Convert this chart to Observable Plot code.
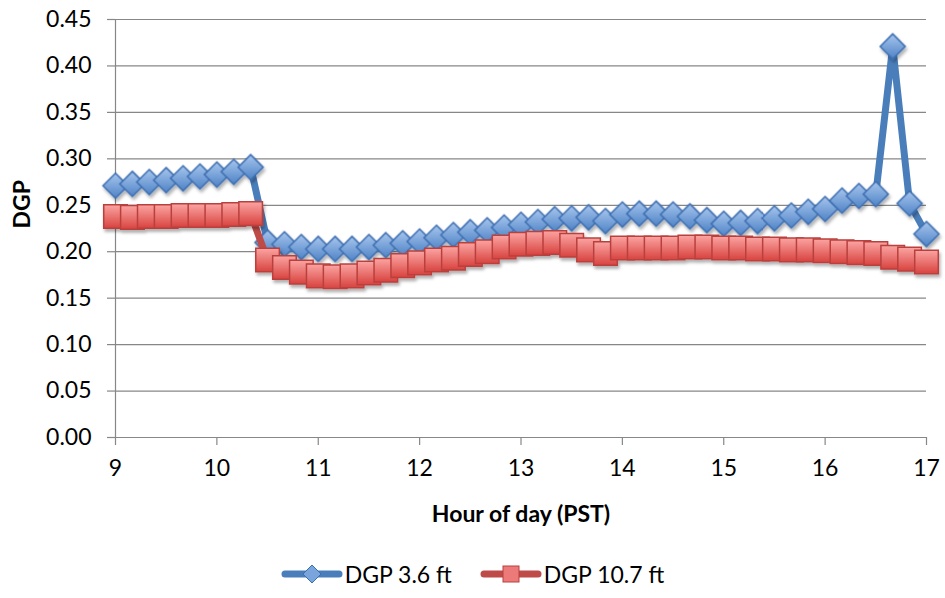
<!DOCTYPE html>
<html>
<head>
<meta charset="utf-8">
<script src="https://cdn.jsdelivr.net/npm/d3@7"></script>
<script src="https://cdn.jsdelivr.net/npm/@observablehq/plot@0.6"></script>
<style>
  body { margin: 0; background: #fff; font-family: Lato, "Liberation Sans", sans-serif; }
  #chart { width: 945px; }
  #legend { display: flex; justify-content: center; align-items: center; height: 48px; padding-top: 0; font-size: 23px; color: #000; }
  .item { display: flex; align-items: center; margin: 0 14px; }
  .item svg { margin-right: 2px; }
</style>
</head>
<body>
<div id="chart"></div>
<div id="legend"></div>
<script>
const hours = [9, 9.1667, 9.3333, 9.5, 9.6667, 9.8333, 10, 10.1667, 10.3333, 10.5, 10.6667, 10.8333,
  11, 11.1667, 11.3333, 11.5, 11.6667, 11.8333, 12, 12.1667, 12.3333, 12.5, 12.6667, 12.8333,
  13, 13.1667, 13.3333, 13.5, 13.6667, 13.8333, 14, 14.1667, 14.3333, 14.5, 14.6667, 14.8333,
  15, 15.1667, 15.3333, 15.5, 15.6667, 15.8333, 16, 16.1667, 16.3333, 16.5, 16.6667, 16.8333, 17];

const dgp36 = [0.271, 0.273, 0.275, 0.277, 0.279, 0.281, 0.283, 0.286, 0.291, 0.210, 0.208, 0.205,
  0.203, 0.203, 0.203, 0.205, 0.207, 0.209, 0.211, 0.215, 0.218, 0.221, 0.223, 0.226,
  0.229, 0.232, 0.235, 0.236, 0.237, 0.233, 0.240, 0.241, 0.241, 0.240, 0.238, 0.234,
  0.230, 0.231, 0.233, 0.236, 0.239, 0.243, 0.246, 0.255, 0.260, 0.262, 0.421, 0.252, 0.219];

const dgp107 = [0.238, 0.237, 0.238, 0.238, 0.239, 0.239, 0.239, 0.240, 0.241, 0.191, 0.183, 0.178,
  0.174, 0.173, 0.174, 0.177, 0.180, 0.185, 0.188, 0.191, 0.193, 0.197, 0.200, 0.205,
  0.208, 0.209, 0.210, 0.207, 0.202, 0.198, 0.204, 0.204, 0.204, 0.204, 0.205, 0.205,
  0.204, 0.204, 0.203, 0.203, 0.202, 0.202, 0.201, 0.200, 0.199, 0.198, 0.194, 0.192, 0.189];

const seriesNames = ["DGP 3.6 ft", "DGP 10.7 ft"];
const xTicks = [9, 10, 11, 12, 13, 14, 15, 16, 17];
const yTicks = [0, 0.05, 0.10, 0.15, 0.20, 0.25, 0.30, 0.35, 0.40, 0.45];
const xTitle = "Hour of day (PST)";
const yTitle = "DGP";

const s1 = hours.map((h, i) => ({h, v: dgp36[i]}));
const s2 = hours.map((h, i) => ({h, v: dgp107[i]}));

const gridColor = "#878787";
const fontFamily = "Lato, 'Liberation Sans', sans-serif";

const svg = Plot.plot({
  width: 945,
  height: 550,
  marginLeft: 115,
  marginRight: 19,
  marginTop: 19,
  marginBottom: 113,
  style: {fontFamily, fontSize: "23px", color: "#000", background: "#fff"},
  x: {domain: [9, 17]},
  y: {domain: [0, 0.45]},
  marks: [
    Plot.gridY(yTicks.filter(d => d > 0), {stroke: gridColor, strokeOpacity: 1, strokeWidth: 1.2}),
    Plot.ruleY([0], {stroke: gridColor, strokeWidth: 1.2}),
    Plot.ruleX([9], {stroke: gridColor, strokeWidth: 1.2}),
    Plot.axisY({ticks: yTicks, tickFormat: d3.format(".2f"), tickSize: 8, tickPadding: 16,
      stroke: gridColor, strokeWidth: 1.2, label: null, fontSize: 23, fill: "#000"}),
    Plot.axisX({ticks: xTicks, tickFormat: d => String(d), tickSize: 8, tickPadding: 14,
      stroke: gridColor, strokeWidth: 1.2, label: null, fontSize: 23, fill: "#000"}),
    Plot.text([yTitle], {frameAnchor: "left", dx: -93, rotate: -90, fontWeight: "bold", fontSize: 23, fill: "#000"}),
    Plot.text([xTitle], {frameAnchor: "bottom", dy: 84, fontWeight: "bold", fontSize: 23, fill: "#000"}),
    Plot.line(s1, {x: "h", y: "v", stroke: "#4a7ebb", strokeWidth: 7, strokeLinejoin: "round", strokeLinecap: "round"}),
    Plot.dot(s1, {x: "h", y: "v", symbol: "diamond2", r: 11.3, fill: "url(#gBlue)", stroke: "#3d6eb0", strokeWidth: 1.5, className: "mk"}),
    Plot.line(s2, {x: "h", y: "v", stroke: "#be4b48", strokeWidth: 7, strokeLinejoin: "round", strokeLinecap: "round"}),
    Plot.dot(s2, {x: "h", y: "v", symbol: "square", r: 13.3, fill: "url(#gRed)", stroke: "#b9403d", strokeWidth: 1.5, className: "mk"})
  ]
});

const defs = `
  <linearGradient id="gBlue" x1="0" y1="0" x2="0" y2="1">
    <stop offset="0" stop-color="#a7c6ee"/><stop offset="1" stop-color="#4f83c6"/>
  </linearGradient>
  <linearGradient id="gRed" x1="0" y1="0" x2="0" y2="1">
    <stop offset="0" stop-color="#fba4a2"/><stop offset="1" stop-color="#d8433f"/>
  </linearGradient>
  <filter id="shadow" x="-50%" y="-50%" width="200%" height="200%">
    <feDropShadow dx="1.5" dy="3" stdDeviation="1.8" flood-color="#000" flood-opacity="0.3"/>
  </filter>`;
d3.select(svg).insert("defs", ":first-child").html(defs);
d3.select(svg).selectAll("g.mk").attr("filter", "url(#shadow)");
document.getElementById("chart").appendChild(svg);

// legend
const legend = d3.select("#legend");
const items = [
  {name: seriesNames[0], line: "#4a7ebb", sym: "diamond", fill: "#7aa5dc", stroke: "#3d6eb0"},
  {name: seriesNames[1], line: "#be4b48", sym: "square", fill: "#ec7a78", stroke: "#b9403d"}
];
items.forEach(it => {
  const div = legend.append("div").attr("class", "item");
  const s = div.append("svg").attr("width", 62).attr("height", 24);
  s.append("line").attr("x1", 4).attr("x2", 58).attr("y1", 12).attr("y2", 12)
    .attr("stroke", it.line).attr("stroke-width", 7).attr("stroke-linecap", "round");
  if (it.sym === "diamond") {
    s.append("path").attr("d", "M31,3L40,12L31,21L22,12Z").attr("fill", it.fill).attr("stroke", it.stroke).attr("stroke-width", 1);
  } else {
    s.append("rect").attr("x", 23).attr("y", 4).attr("width", 16).attr("height", 16)
      .attr("fill", it.fill).attr("stroke", it.stroke).attr("stroke-width", 1);
  }
  div.append("span").text(it.name);
});
</script>
</body>
</html>
